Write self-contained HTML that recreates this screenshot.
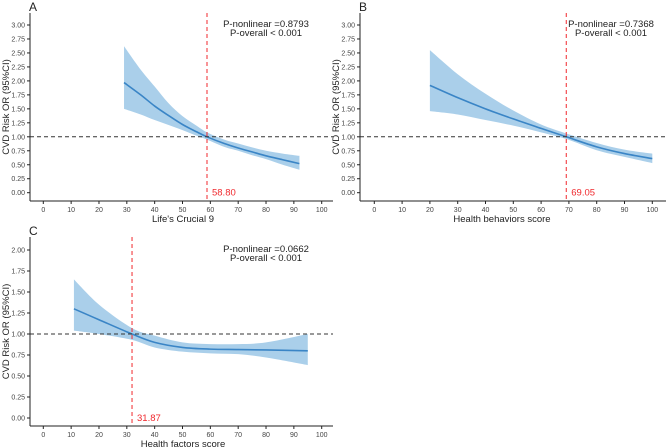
<!DOCTYPE html>
<html><head><meta charset="utf-8"><style>
body{margin:0;background:#fff;}
svg{display:block;font-family:"Liberation Sans",Arial,sans-serif;}
</style></head><body>
<svg id="chart" width="669" height="448"></svg>
<script>
const xTicks=[0,10,20,30,40,50,60,70,80,90,100];
const aX=[29,35,40,45,50,55,58.8,65,70,75,80,86,92];
const aEst=[1.97,1.75,1.55,1.38,1.22,1.09,1.0,0.88,0.8,0.73,0.66,0.59,0.52];
const aLo=[1.5,1.4,1.3,1.21,1.12,1.02,0.95,0.82,0.75,0.67,0.6,0.5,0.41];
const aHi=[2.62,2.2,1.9,1.6,1.37,1.2,1.08,0.95,0.88,0.81,0.75,0.7,0.66];
const aYT=[0,0.25,0.5,0.75,1,1.25,1.5,1.75,2,2.25,2.5,2.75,3];
const bX=[20,30,40,50,60,69.05,80,90,100];
const bEst=[1.92,1.7,1.5,1.32,1.15,1.0,0.82,0.7,0.61];
const bLo=[1.46,1.4,1.3,1.2,1.08,0.96,0.76,0.64,0.53];
const bHi=[2.55,2.12,1.77,1.47,1.22,1.06,0.89,0.77,0.7];
const cX=[11,20,31.87,40,50,60,70,80,95];
const cEst=[1.30,1.17,1.0,0.9,0.84,0.82,0.815,0.81,0.80];
const cLo=[1.04,1.0,0.93,0.84,0.79,0.77,0.76,0.72,0.63];
const cHi=[1.65,1.35,1.07,0.98,0.9,0.88,0.88,0.9,1.0];
const cYT=[0,0.25,0.5,0.75,1,1.25,1.5,1.75,2];

const svg=document.getElementById('chart');
const NS='http://www.w3.org/2000/svg';
function mk(tag,attrs,parent,text){const e=document.createElementNS(NS,tag);for(const k in attrs)e.setAttribute(k,attrs[k]);if(text!==undefined)e.textContent=text;parent.appendChild(e);return e;}
function smooth(pts){let d='M'+pts[0][0]+','+pts[0][1];for(let i=0;i<pts.length-1;i++){const p0=pts[Math.max(0,i-1)],p1=pts[i],p2=pts[i+1],p3=pts[Math.min(pts.length-1,i+2)];const c1=[p1[0]+(p2[0]-p0[0])/6,p1[1]+(p2[1]-p0[1])/6],c2=[p2[0]-(p3[0]-p1[0])/6,p2[1]-(p3[1]-p1[1])/6];d+=' C'+c1[0]+','+c1[1]+' '+c2[0]+','+c2[1]+' '+p2[0]+','+p2[1];}return d;}
function panel(o){
  const g=mk('g',{},svg);
  
  
  const xs=v=>o.x0+(o.x100-o.x0)*v/100;
  const ys=v=>o.y0-(o.y0-o.yTop)*v/o.yMax;
  const lbl=mk('text',{x:o.ax-1,y:o.top-2,'font-size':12,fill:'#222'},g,o.id);
  
  const up=o.X.map((x,i)=>[xs(x),ys(o.Hi[i])]);
  const lo=o.X.map((x,i)=>[xs(x),ys(o.Lo[i])]).reverse();
  const sl=smooth(lo);
  let d=smooth(up)+' L'+lo[0][0]+','+lo[0][1]+sl.slice(sl.indexOf(' '))+' Z';
  const band=mk('path',{d:d,fill:'#aacfea',stroke:'none'},g);
  
  const line=mk('path',{d:smooth(o.X.map((x,i)=>[xs(x),ys(o.Est[i])])),fill:'none',stroke:'#3a85c6','stroke-width':1.6},g);
  
  const h=mk('line',{x1:o.ax,x2:o.right,y1:ys(1),y2:ys(1),stroke:'#333','stroke-width':1,'stroke-dasharray':'4,3'},g);
  
  const v=mk('line',{x1:xs(o.cut),x2:xs(o.cut),y1:o.top,y2:o.axY,stroke:'#f0282d','stroke-width':1,'stroke-dasharray':'4,3'},g);
  
  const ct=mk('text',{x:xs(o.cut)+5,y:o.y0+3,'font-size':9.5,fill:'#f0282d'},g,o.cut.toFixed(2));
  
  mk('line',{x1:o.ax,x2:o.ax,y1:o.top,y2:o.axY,stroke:'#222','stroke-width':1},g);
  mk('line',{x1:o.ax,x2:o.right,y1:o.axY,y2:o.axY,stroke:'#222','stroke-width':1},g);
  o.YT.forEach(t=>{mk('line',{x1:o.ax-3,x2:o.ax,y1:ys(t),y2:ys(t),stroke:'#222'},g);
    const tx=mk('text',{x:o.ax-5,y:ys(t)+2.5,'font-size':7,fill:'#444','text-anchor':'end'},g,t.toFixed(2));
    });
  xTicks.forEach(t=>{mk('line',{x1:xs(t),x2:xs(t),y1:o.axY,y2:o.axY+3,stroke:'#222'},g);
    const tx=mk('text',{x:xs(t),y:o.axY+11,'font-size':7,fill:'#444','text-anchor':'middle'},g,t);
    });
  const xt=mk('text',{x:o.xtx,y:o.axY+21,'font-size':9.5,fill:'#222','text-anchor':'middle'},g,o.xTitle);
  
  const yc=(o.top+o.axY)/2;
  const yt=mk('text',{x:0,y:0,'font-size':9.5,fill:'#222','text-anchor':'middle',transform:'translate('+(o.ax-21)+','+yc+') rotate(-90)'},g,'CVD Risk  OR (95%CI)');
  
  const p1=mk('text',{x:o.px,y:o.py,'font-size':9.5,fill:'#222','text-anchor':'middle'},g,o.p1);
  
  const p2=mk('text',{x:o.px,y:o.py+9,'font-size':9.5,fill:'#222','text-anchor':'middle'},g,'P-overall < 0.001');
  
}
panel({id:'A',ax:30,right:333,top:13,axY:201,x0:43.3,x100:321.7,y0:192.7,yTop:25,yMax:3,YT:aYT,X:aX,Est:aEst,Lo:aLo,Hi:aHi,cut:58.80,xTitle:"Life's Crucial 9",xtx:183,px:266,py:27,p1:'P-nonlinear =0.8793'});
panel({id:'B',ax:360,right:666,top:13,axY:201,x0:374.3,x100:652.3,y0:192.7,yTop:25,yMax:3,YT:aYT,X:bX,Est:bEst,Lo:bLo,Hi:bHi,cut:69.05,xTitle:'Health behaviors score',xtx:502,px:611,py:27,p1:'P-nonlinear =0.7368'});
panel({id:'C',ax:30,right:333,top:237,axY:426,x0:43.3,x100:321.7,y0:418,yTop:250,yMax:2,YT:cYT,X:cX,Est:cEst,Lo:cLo,Hi:cHi,cut:31.87,xTitle:'Health factors score',xtx:183,px:266,py:252,p1:'P-nonlinear =0.0662'});
</script>
</body></html>
